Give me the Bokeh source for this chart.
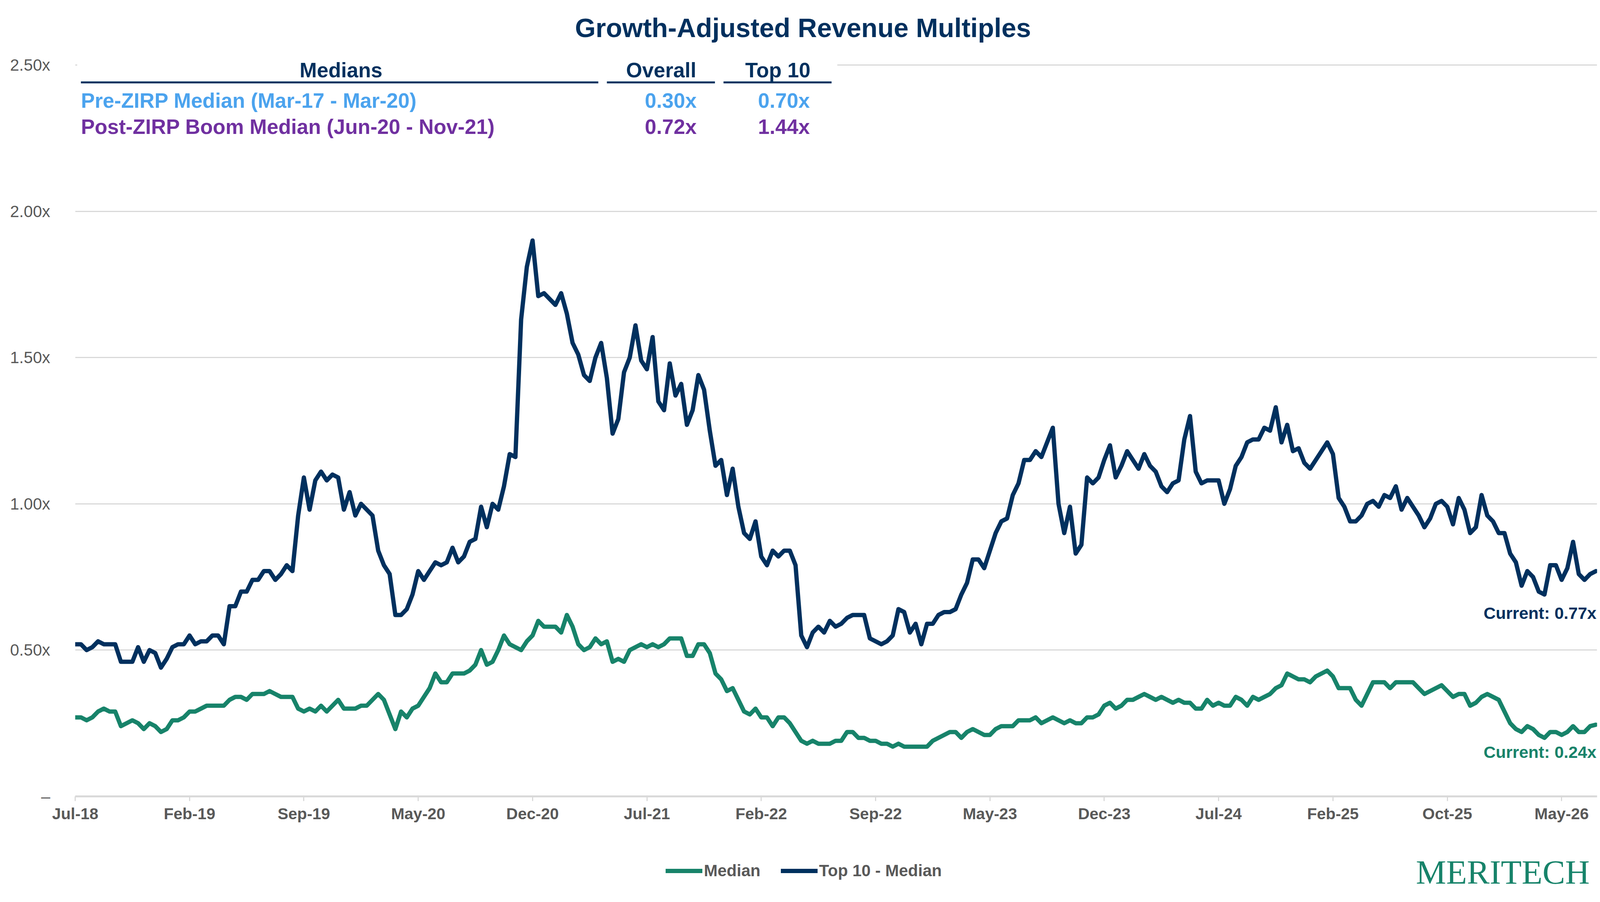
from bokeh.plotting import figure
from bokeh.layouts import column
from bokeh.models import (Range1d, FixedTicker, Label, BoxAnnotation, Legend,
                          LegendItem, ColumnDataSource)
from bokeh.embed import file_html
from bokeh.resources import INLINE

# ---------------- data (one value every ~7.5 trading days) -------------
tick_labels = ["Jul-18", "Feb-19", "Sep-19", "May-20", "Dec-20", "Jul-21", "Feb-22",
               "Sep-22", "May-23", "Dec-23", "Jul-24", "Feb-25", "Oct-25", "May-26"]
periods_per_tick = 20

top10_median = [
    0.52, 0.52, 0.50, 0.51, 0.53, 0.52, 0.52, 0.52, 0.46, 0.46,
    0.46, 0.51, 0.46, 0.50, 0.49, 0.44, 0.47, 0.51, 0.52, 0.52,
    0.55, 0.52, 0.53, 0.53, 0.55, 0.55, 0.52, 0.65, 0.65, 0.70,
    0.70, 0.74, 0.74, 0.77, 0.77, 0.74, 0.76, 0.79, 0.77, 0.96,
    1.09, 0.98, 1.08, 1.11, 1.08,
    1.10, 1.09, 0.98, 1.04, 0.96, 1.00, 0.98, 0.96, 0.84, 0.79,
    0.76, 0.62, 0.62, 0.64, 0.69, 0.77, 0.74, 0.77, 0.80, 0.79,
    0.80, 0.85, 0.80, 0.82, 0.87, 0.88, 0.99, 0.92, 1.00, 0.98,
    1.06, 1.17, 1.16, 1.63, 1.81, 1.90, 1.71, 1.72, 1.70, 1.68,
    1.72, 1.65, 1.55, 1.51, 1.44,
    1.42, 1.50, 1.55, 1.43, 1.24, 1.29, 1.45, 1.50, 1.61, 1.49,
    1.46, 1.57, 1.35, 1.32, 1.48, 1.37, 1.41, 1.27, 1.32, 1.44,
    1.39, 1.25, 1.13, 1.15, 1.03, 1.12, 0.99, 0.90, 0.88, 0.94,
    0.82, 0.79, 0.84, 0.82, 0.84, 0.84, 0.79, 0.55, 0.51, 0.56,
    0.58, 0.56, 0.60, 0.58, 0.59,
    0.61, 0.62, 0.62, 0.62, 0.54, 0.53, 0.52, 0.53, 0.55, 0.64,
    0.63, 0.56, 0.59, 0.52, 0.59, 0.59, 0.62, 0.63, 0.63, 0.64,
    0.69, 0.73, 0.81, 0.81, 0.78, 0.84, 0.90, 0.94, 0.95, 1.03,
    1.07, 1.15, 1.15, 1.18, 1.16, 1.21, 1.26, 1.00, 0.90, 0.99,
    0.83, 0.86, 1.09, 1.07, 1.09,
    1.15, 1.20, 1.09, 1.13, 1.18, 1.15, 1.12, 1.17, 1.13, 1.11,
    1.06, 1.04, 1.07, 1.08, 1.22, 1.30, 1.11, 1.07, 1.08, 1.08,
    1.08, 1.00, 1.05, 1.13, 1.16, 1.21, 1.22, 1.22, 1.26, 1.25,
    1.33, 1.21, 1.27, 1.18, 1.19, 1.14, 1.12, 1.15, 1.18, 1.21,
    1.17, 1.02, 0.99, 0.94, 0.94, 0.96,
    1.00, 1.01, 0.99, 1.03, 1.02, 1.06, 0.98, 1.02, 0.99, 0.96,
    0.92, 0.95, 1.00, 1.01, 0.99, 0.93, 1.02, 0.98, 0.90, 0.92,
    1.03, 0.96, 0.94, 0.90, 0.90, 0.83, 0.80, 0.72, 0.77, 0.75,
    0.70, 0.69, 0.79, 0.79, 0.74, 0.78, 0.87, 0.76, 0.74, 0.76,
    0.77,
]

median = [
    0.27, 0.27, 0.26, 0.27, 0.29, 0.30, 0.29, 0.29, 0.24, 0.25,
    0.26, 0.25, 0.23, 0.25, 0.24, 0.22, 0.23, 0.26, 0.26, 0.27,
    0.29, 0.29, 0.30, 0.31, 0.31, 0.31, 0.31, 0.33, 0.34, 0.34,
    0.33, 0.35, 0.35, 0.35, 0.36, 0.35, 0.34, 0.34, 0.34, 0.30,
    0.29, 0.30, 0.29, 0.31, 0.29,
    0.31, 0.33, 0.30, 0.30, 0.30, 0.31, 0.31, 0.33, 0.35, 0.33,
    0.28, 0.23, 0.29, 0.27, 0.30, 0.31, 0.34, 0.37, 0.42, 0.39,
    0.39, 0.42, 0.42, 0.42, 0.43, 0.45, 0.50, 0.45, 0.46, 0.50,
    0.55, 0.52, 0.51, 0.50, 0.53, 0.55, 0.60, 0.58, 0.58, 0.58,
    0.56, 0.62, 0.58, 0.52, 0.50,
    0.51, 0.54, 0.52, 0.53, 0.46, 0.47, 0.46, 0.50, 0.51, 0.52,
    0.51, 0.52, 0.51, 0.52, 0.54, 0.54, 0.54, 0.48, 0.48, 0.52,
    0.52, 0.49, 0.42, 0.40, 0.36, 0.37, 0.33, 0.29, 0.28, 0.30,
    0.27, 0.27, 0.24, 0.27, 0.27, 0.25, 0.22, 0.19, 0.18, 0.19,
    0.18, 0.18, 0.18, 0.19, 0.19,
    0.22, 0.22, 0.20, 0.20, 0.19, 0.19, 0.18, 0.18, 0.17, 0.18,
    0.17, 0.17, 0.17, 0.17, 0.17, 0.19, 0.20, 0.21, 0.22, 0.22,
    0.20, 0.22, 0.23, 0.22, 0.21, 0.21, 0.23, 0.24, 0.24, 0.24,
    0.26, 0.26, 0.26, 0.27, 0.25, 0.26, 0.27, 0.26, 0.25, 0.26,
    0.25, 0.25, 0.27, 0.27, 0.28,
    0.31, 0.32, 0.30, 0.31, 0.33, 0.33, 0.34, 0.35, 0.34, 0.33,
    0.34, 0.33, 0.32, 0.33, 0.32, 0.32, 0.30, 0.30, 0.33, 0.31,
    0.32, 0.31, 0.31, 0.34, 0.33, 0.31, 0.34, 0.33, 0.34, 0.35,
    0.37, 0.38, 0.42, 0.41, 0.40, 0.40, 0.39, 0.41, 0.42, 0.43,
    0.41, 0.37, 0.37, 0.37, 0.33, 0.31,
    0.35, 0.39, 0.39, 0.39, 0.37, 0.39, 0.39, 0.39, 0.39, 0.37,
    0.35, 0.36, 0.37, 0.38, 0.36, 0.34, 0.35, 0.35, 0.31, 0.32,
    0.34, 0.35, 0.34, 0.33, 0.29, 0.25, 0.23, 0.22, 0.24, 0.23,
    0.21, 0.20, 0.22, 0.22, 0.21, 0.22, 0.24, 0.22, 0.22, 0.24,
    0.245,
]

table_header = ["Medians", "Overall", "Top 10"]
table_rows = ["Pre-ZIRP Median (Mar-17 - Mar-20)", "Post-ZIRP Boom Median (Jun-20 - Nov-21)"]
table_overall = ["0.30x", "0.72x"]
table_top10 = ["0.70x", "1.44x"]
current_top10 = "Current: 0.77x"
current_median = "Current: 0.24x"
series_names = ["Median", "Top 10 - Median"]

y_ticks = [0, 0.5, 1.0, 1.5, 2.0, 2.5]
y_tick_labels = ["\u2013", "0.50x", "1.00x", "1.50x", "2.00x", "2.50x"]

# ---------------- styles ----------------
NAVY = "#00305e"
GREEN = "#17836a"
GREY = "#595959"
GRID = "#d9d9d9"
BLUE_TXT = "#4ba3ee"
PURPLE_TXT = "#7030a0"
FONT = "Liberation Sans"
LW = 11
BORDER_L, BORDER_R = 192, 22

period = list(range(len(top10_median)))
src = ColumnDataSource(dict(x=period, med=median, top=top10_median))

W, H_MAIN, H_FOOT = 4110, 2150, 142
# main chart: the frame reaches the top of the figure so the title sits inside it
p = figure(width=W, height=H_MAIN, output_backend="svg", toolbar_location=None,
           x_range=Range1d(0, 266.2), y_range=Range1d(0, 2.7215),
           min_border_left=BORDER_L, min_border_right=BORDER_R, min_border_top=0,
           min_border_bottom=111)
p.outline_line_color = None
p.background_fill_color = "white"
p.border_fill_color = "white"

p.line("x", "med", source=src, line_color=GREEN, line_width=LW,
       line_join="round", line_cap="round")
p.line("x", "top", source=src, line_color=NAVY, line_width=LW,
       line_join="round", line_cap="round")

# axes
xt = [i * periods_per_tick for i in range(len(tick_labels))]
p.xaxis.ticker = FixedTicker(ticks=xt)
p.xaxis.major_label_overrides = {t: lab for t, lab in zip(xt, tick_labels)}
p.xaxis.axis_line_color = GRID
p.xaxis.axis_line_width = 5
p.xaxis.major_tick_line_color = GRID
p.xaxis.major_tick_line_width = 3
p.xaxis.major_tick_in = 0
p.xaxis.major_tick_out = 12
p.xaxis.minor_tick_line_color = None
p.xaxis.major_label_standoff = 9
p.xaxis.major_label_text_font = FONT
p.xaxis.major_label_text_font_size = "41px"
p.xaxis.major_label_text_font_style = "bold"
p.xaxis.major_label_text_color = GREY

p.yaxis.ticker = FixedTicker(ticks=y_ticks)
p.yaxis.major_label_overrides = {t: lab for t, lab in zip(y_ticks, y_tick_labels)}
p.yaxis.axis_line_color = None
p.yaxis.major_tick_line_color = None
p.yaxis.minor_tick_line_color = None
p.yaxis.major_tick_in = 0
p.yaxis.major_tick_out = 0
p.yaxis.major_label_standoff = 64
p.yaxis.major_label_text_font = FONT
p.yaxis.major_label_text_font_size = "42px"
p.yaxis.major_label_text_color = GREY

p.xgrid.grid_line_color = None
p.ygrid.grid_line_color = GRID
p.ygrid.grid_line_width = 3

# white panel behind the medians table (hides the top gridline there)
p.add_layout(BoxAnnotation(left=0.35, right=133.3, bottom=2.46, fill_color="white",
                           fill_alpha=1.0, line_alpha=0, level="annotation"))

# table header underlines
for l, r in [(1.0, 91.5), (93.0, 111.9), (113.4, 132.3)]:
    p.add_layout(BoxAnnotation(left=l, right=r, bottom=2.4372, top=2.4438,
                               fill_color=NAVY, fill_alpha=1.0, line_alpha=0,
                               level="annotation"))

def lab(fig, x, y, text, size, color, align="left", baseline="alphabetic", bold=True,
        font=FONT):
    fig.add_layout(Label(x=x, y=y, text=text, text_font=font, text_font_size=size,
                         text_font_style="bold" if bold else "normal", text_color=color,
                         text_align=align, text_baseline=baseline))

# title
lab(p, 127.3, 2.627, "Growth-Adjusted Revenue Multiples", "68px", NAVY, align="center")

# table
for x, t in zip([46.5, 102.5, 122.9], table_header):
    lab(p, x, 2.483, t, "53px", NAVY, align="center")
row_y = [2.378, 2.289]
row_col = [BLUE_TXT, PURPLE_TXT]
for y, name, ov, tp, c in zip(row_y, table_rows, table_overall, table_top10, row_col):
    lab(p, 1.0, y, name, "53px", c)
    lab(p, 108.7, y, ov, "53px", c, align="right")
    lab(p, 128.5, y, tp, "53px", c, align="right")

# current value labels
lab(p, 266.1, 0.626, current_top10, "43px", NAVY, align="right", baseline="middle")
lab(p, 266.1, 0.151, current_median, "43px", GREEN, align="right", baseline="middle")

# ---------------- footer: legend and logo (frame aligned with the chart's frame) -------------
FW = W - BORDER_L - BORDER_R
f = figure(width=W, height=H_FOOT, output_backend="svg", toolbar_location=None,
           x_range=Range1d(0, FW), y_range=Range1d(0, H_FOOT),
           x_axis_type=None, y_axis_type=None,
           min_border_left=BORDER_L, min_border_right=BORDER_R, min_border_top=0,
           min_border_bottom=0)
f.outline_line_color = None
f.xgrid.visible = False
f.ygrid.visible = False
f.background_fill_color = "white"
f.border_fill_color = "white"

# legend keys (styled like the chart's series; they hold no visible points)
nan = float("nan")
k_med = f.line(x=[nan], y=[nan], line_color=GREEN, line_width=LW, line_cap="round")
k_top = f.line(x=[nan], y=[nan], line_color=NAVY, line_width=LW, line_cap="round")

legend = Legend(items=[LegendItem(label=series_names[0], renderers=[k_med]),
                       LegendItem(label=series_names[1], renderers=[k_top])],
                location=(1512, 37), orientation="horizontal", padding=0, margin=0,
                spacing=52, label_standoff=4, glyph_width=94, glyph_height=50,
                label_height=50, label_text_font=FONT, label_text_font_size="42px",
                label_text_font_style="bold", label_text_color=GREY,
                label_text_baseline="middle",
                border_line_alpha=0, background_fill_alpha=0)
f.add_layout(legend)

lab(f, FW - 19, 59, "MERITECH", "87px", GREEN, align="right", bold=False,
    font="Liberation Serif")

open("out.html", "w").write(file_html(column(p, f), INLINE))
